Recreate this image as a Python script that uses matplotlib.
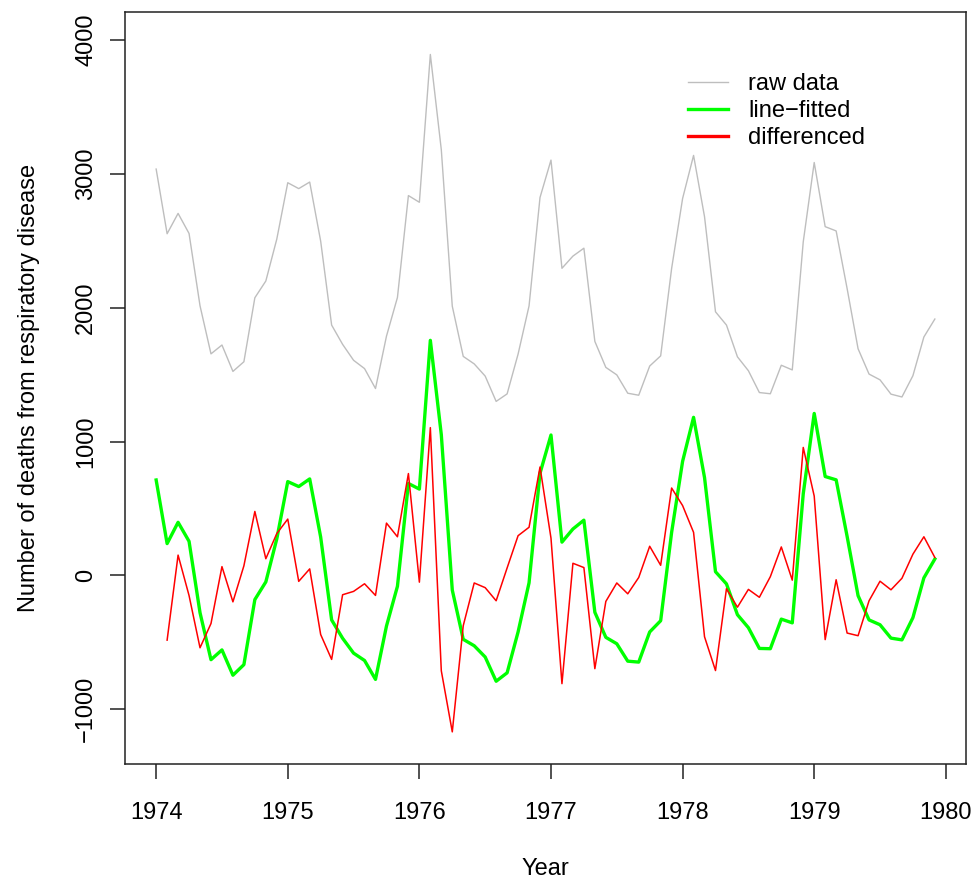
import matplotlib
matplotlib.use("Agg")
import matplotlib.pyplot as plt
from matplotlib.lines import Line2D
import numpy as np

plt.rcParams['font.family'] = ['Liberation Sans', 'DejaVu Sans']

# monthly deaths, Jan 1974 .. Dec 1979
raw = [3035, 2552, 2704, 2554, 2014, 1655, 1721, 1524, 1596, 2074, 2199, 2512,
       2933, 2889, 2938, 2497, 1870, 1726, 1607, 1545, 1396, 1787, 2076, 2837,
       2787, 3891, 3179, 2011, 1636, 1580, 1489, 1300, 1356, 1653, 2013, 2823,
       3102, 2294, 2385, 2444, 1748, 1554, 1498, 1361, 1346, 1564, 1640, 2293,
       2815, 3137, 2679, 1969, 1870, 1633, 1529, 1366, 1357, 1570, 1535, 2491,
       3084, 2605, 2573, 2143, 1693, 1504, 1461, 1354, 1333, 1492, 1781, 1915]

# residuals after removing a straight line
fitted = [713, 238, 397, 255, -278, -629, -556, -745, -666, -180, -48, 273,
          701, 664, 721, 287, -332, -469, -580, -635, -776, -378, -81, 687,
          645, 1756, 1051, -109, -477, -525, -609, -790, -727, -422, -55, 763,
          1049, 249, 347, 413, -275, -462, -510, -640, -647, -422, -338, 322,
          852, 1181, 731, 28, -63, -293, -390, -545, -547, -326, -354, 610,
          1210, 739, 714, 292, -151, -332, -368, -468, -481, -315, -18, 123]

# first differences (starts Feb 1974)
diffd = [-483, 152, -150, -540, -359, 66, -197, 72, 478, 125, 313,
         421, -44, 49, -441, -627, -144, -119, -62, -149, 391, 289, 761,
         -50, 1104, -712, -1168, -375, -56, -91, -189, 56, 297, 360, 810,
         279, -808, 91, 59, -696, -194, -56, -137, -15, 218, 76, 653,
         522, 322, -458, -710, -99, -237, -104, -163, -9, 213, -35, 956,
         593, -479, -32, -430, -450, -189, -43, -107, -21, 159, 289, 134]

labels = ['raw data', 'line\u2212fitted', 'differenced']
colors = ['#BEBEBE', '#00FF00', '#FF0000']

t = 1974 + np.arange(len(raw)) / 12.0

fig = plt.figure(figsize=(9.75, 8.8), dpi=100)
ax = fig.add_axes([125/975, (880-764)/880, (966-125)/975, (764-12)/880])

ax.plot(t, raw, color=colors[0], lw=1.0)
ax.plot(t, fitted, color=colors[1], lw=2.4)
ax.plot(t[1:], diffd, color=colors[2], lw=1.1)

xr = t[-1] - t[0]
ax.set_xlim(t[0] - 0.04*xr, t[-1] + 0.04*xr)
ax.set_ylim(-1200 - 208, 4000 + 208)

ax.set_xticks([1974, 1975, 1976, 1977, 1978, 1979, 1980])
ax.set_yticks([-1000, 0, 1000, 2000, 3000, 4000])
ax.set_yticklabels(['\u22121000', '0', '1000', '2000', '3000', '4000'],
                   rotation=90, va='center')
ax.tick_params(labelsize=17, length=11, width=1.1, color='#222222')
ax.tick_params(axis='x', pad=16)
ax.tick_params(axis='y', pad=9)
for s in ax.spines.values():
    s.set_linewidth(1.1)
    s.set_color('#222222')

ax.set_xlabel('Year', fontsize=17, labelpad=25)
ax.set_ylabel('Number of deaths from respiratory disease', fontsize=17, labelpad=25)

handles = [Line2D([], [], color=colors[0], lw=1.0),
           Line2D([], [], color=colors[1], lw=2.4),
           Line2D([], [], color=colors[2], lw=2.4)]
ax.legend(handles, labels, loc='upper left', bbox_to_anchor=(0.6445, 0.947),
          frameon=False, fontsize=17, handlelength=1.7, handletextpad=0.85,
          labelspacing=0.21)

fig.savefig('out.png', dpi=100)
